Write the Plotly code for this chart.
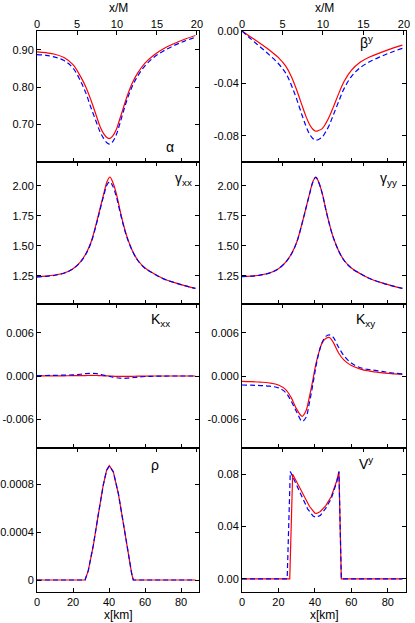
import plotly.graph_objects as go

# km per unit of M (top axis)
KM_PER_M = 4.444

# ---- data (x in km) ----
X_KM = [0, 5, 10, 15, 20, 24, 27, 30, 33, 35, 37, 39, 40.5, 42, 44, 46, 48, 50,
        53, 56, 60, 65, 70, 76, 82, 88]

ALPHA_RED = [0.894, 0.892, 0.888, 0.879, 0.860, 0.830, 0.802, 0.765, 0.723, 0.695,
             0.676, 0.665, 0.663, 0.669, 0.686, 0.715, 0.745, 0.775, 0.812, 0.838,
             0.864, 0.886, 0.902, 0.916, 0.928, 0.938]
ALPHA_BLUE = [0.887, 0.885, 0.880, 0.871, 0.851, 0.818, 0.786, 0.745, 0.706, 0.681,
              0.663, 0.651, 0.648, 0.654, 0.672, 0.702, 0.735, 0.766, 0.803, 0.830,
              0.857, 0.880, 0.896, 0.911, 0.923, 0.933]

BETA_RED = [0.0, -0.0048, -0.0095, -0.0145, -0.0203, -0.0268, -0.0345, -0.0450,
            -0.0570, -0.0648, -0.0712, -0.0752, -0.0765, -0.0760, -0.0745, -0.0705,
            -0.0650, -0.0585, -0.0480, -0.0385, -0.0300, -0.0237, -0.0198, -0.0165,
            -0.0135, -0.0108]
BETA_BLUE = [0.0, -0.0062, -0.0122, -0.0182, -0.0250, -0.0322, -0.0410, -0.0520,
             -0.0645, -0.0722, -0.0785, -0.0822, -0.0833, -0.0828, -0.0810, -0.0768,
             -0.0715, -0.0645, -0.0540, -0.0440, -0.0348, -0.0278, -0.0235, -0.0196,
             -0.0162, -0.0133]

GXX_RED = [1.245, 1.248, 1.257, 1.274, 1.310, 1.365, 1.430, 1.530, 1.690, 1.810,
           1.930, 2.040, 2.075, 2.035, 1.940, 1.805, 1.680, 1.575, 1.460, 1.380,
           1.315, 1.268, 1.228, 1.195, 1.168, 1.145]
GXX_BLUE = [1.240, 1.246, 1.255, 1.272, 1.308, 1.362, 1.427, 1.525, 1.682, 1.800,
            1.915, 2.012, 2.035, 2.002, 1.915, 1.790, 1.672, 1.570, 1.457, 1.378,
            1.314, 1.267, 1.227, 1.195, 1.168, 1.145]

GYY_RED = [1.245, 1.248, 1.257, 1.274, 1.310, 1.365, 1.430, 1.530, 1.690, 1.810,
           1.930, 2.040, 2.075, 2.035, 1.940, 1.805, 1.680, 1.575, 1.460, 1.380,
           1.315, 1.268, 1.228, 1.195, 1.168, 1.145]
GYY_BLUE = [1.243, 1.247, 1.256, 1.273, 1.309, 1.364, 1.429, 1.529, 1.688, 1.808,
            1.928, 2.037, 2.072, 2.033, 1.938, 1.803, 1.679, 1.574, 1.459, 1.379,
            1.315, 1.268, 1.228, 1.195, 1.168, 1.145]

KXX_RED = [0.00002, 0.00002, 0.00003, 0.00003, 0.00004, 0.00005, 0.00006, 0.00008,
           0.00007, 0.00005, 0.00003, 0.00001, -0.00001, -0.00003, -0.00005, -0.00006,
           -0.00006, -0.00005, -0.00004, -0.00002, -0.00001, 0.0, 0.0, 0.0, 0.0, 0.0]
KXX_BLUE = [0.00006, 0.00007, 0.00010, 0.00012, 0.00016, 0.00024, 0.00033, 0.00038,
            0.00033, 0.00024, 0.00012, 0.00002, -0.00006, -0.00015, -0.00024, -0.00030,
            -0.00032, -0.00030, -0.00022, -0.00014, -0.00007, -0.00003, -0.00001,
            0.0, 0.0, 0.0]

KXY_RED = [-0.00074, -0.00078, -0.00085, -0.00097, -0.00125, -0.0019, -0.0030,
           -0.0046, -0.0056, -0.0049, -0.0029, -0.0004, 0.0016, 0.0031, 0.0046,
           0.0052, 0.00535, 0.0047, 0.0032, 0.0022, 0.00145, 0.00095, 0.00068,
           0.00048, 0.00034, 0.00023]
KXY_BLUE = [-0.00125, -0.00128, -0.00133, -0.00142, -0.00165, -0.0023, -0.0035,
            -0.0050, -0.0063, -0.0058, -0.0037, -0.0010, 0.0012, 0.0030, 0.0047,
            0.0055, 0.0057, 0.0054, 0.0040, 0.0028, 0.0018, 0.00115, 0.00088,
            0.00068, 0.00045, 0.0003]

X_RHO = [0, 10, 20, 26.7, 28.5, 31.3, 34, 36.8, 38.7, 40.2, 42.4, 45.2, 48, 50.7,
         52.6, 53.5, 60, 70, 80, 88]
RHO_RED = [0, 0, 0, 0, 0.000078, 0.000288, 0.00054, 0.00079, 0.000917, 0.000953,
           0.000903, 0.00072, 0.00047, 0.000204, 0.000053, 0, 0, 0, 0, 0]
RHO_BLUE = [0, 0, 0, 0, 0.000080, 0.000290, 0.00054, 0.00079, 0.000915, 0.000950,
            0.000900, 0.00072, 0.00047, 0.000205, 0.000054, 0, 0, 0, 0, 0]

X_V_RED = [0, 10, 20, 26.2, 27.8, 31, 34, 37, 40, 41, 43, 46, 49, 52, 53.2, 54.5,
           60, 70, 80, 88]
V_RED = [0, 0, 0, 0, 0.080, 0.0715, 0.0635, 0.0555, 0.0502, 0.0500, 0.0515, 0.0560,
         0.0630, 0.0750, 0.082, 0, 0, 0, 0, 0]
X_V_BLUE = [0, 10, 20, 24.8, 26.5, 30, 33, 36, 39, 40.5, 43, 46, 49, 52, 53.2, 54.5,
            60, 70, 80, 88]
V_BLUE = [0, 0, 0, 0, 0.082, 0.0715, 0.0620, 0.0535, 0.0480, 0.0470, 0.0485, 0.0540,
          0.0615, 0.0740, 0.082, 0, 0, 0, 0, 0]

KM_TICKS = [0, 20, 40, 60, 80]
M_TICKS = [0, 5, 10, 15, 20]

ALPHA_TICKS = [0.70, 0.80, 0.90]
ALPHA_LABELS = ["0.70", "0.80", "0.90"]
BETA_TICKS = [-0.08, -0.04, 0.0]
BETA_LABELS = ["-0.08", "-0.04", "0.00"]
GAMMA_TICKS = [1.25, 1.50, 1.75, 2.00]
GAMMA_LABELS = ["1.25", "1.50", "1.75", "2.00"]
K_TICKS = [-0.006, 0.0, 0.006]
K_LABELS = ["-0.006", "0.000", "0.006"]
RHO_TICKS = [0, 0.0004, 0.0008]
RHO_LABELS = ["0", "0.0004", "0.0008"]
V_TICKS = [0.0, 0.04, 0.08]
V_LABELS = ["0.00", "0.04", "0.08"]

# ---- style / layout ----
W, H = 415, 623
FONT = "Liberation Sans, Arial, sans-serif"
RED = "#ff0000"
BLUE = "#0000ff"

COL_PX = [(37, 199), (242, 406)]
ROW_PX = [(31, 162), (162, 304), (304, 448), (448, 592)]

# (label, label px position, x red, red, x blue, blue, y range, ticks, labels, smooth)
PANELS = [
    ("α", (170, 147), X_KM, ALPHA_RED, X_KM, ALPHA_BLUE, [0.6, 0.95],
     ALPHA_TICKS, ALPHA_LABELS, True),
    ("β<sup>y</sup>", (366, 42), X_KM, BETA_RED, X_KM, BETA_BLUE, [-0.1, 0.0],
     BETA_TICKS, BETA_LABELS, True),
    ("γ<sub>xx</sub>", (183, 179), X_KM, GXX_RED, X_KM, GXX_BLUE, [1.015, 2.2],
     GAMMA_TICKS, GAMMA_LABELS, True),
    ("γ<sub>yy</sub>", (388, 179), X_KM, GYY_RED, X_KM, GYY_BLUE, [1.015, 2.2],
     GAMMA_TICKS, GAMMA_LABELS, True),
    ("K<sub>xx</sub>", (160, 320), X_KM, KXX_RED, X_KM, KXX_BLUE, [-0.01, 0.01],
     K_TICKS, K_LABELS, True),
    ("K<sub>xy</sub>", (365, 320), X_KM, KXY_RED, X_KM, KXY_BLUE, [-0.01, 0.01],
     K_TICKS, K_LABELS, True),
    ("ρ", (155, 465), X_RHO, RHO_RED, X_RHO, RHO_BLUE, [-0.0001, 0.0011],
     RHO_TICKS, RHO_LABELS, False),
    ("V<sup>y</sup>", (366, 463), X_V_RED, V_RED, X_V_BLUE, V_BLUE, [-0.01, 0.1],
     V_TICKS, V_LABELS, False),
]

fig = go.Figure()
layout = {}
annotations = []


def px_note(text, xpx, ypx, size):
    return dict(
        text=text, x=xpx / W, y=1 - ypx / H, xref="paper", yref="paper",
        showarrow=False, xanchor="center", yanchor="middle",
        font=dict(family=FONT, size=size, color="black"),
    )


for i, (label, lpos, xr, yr, xb, yb, yrange, yt, ylab, smooth) in enumerate(PANELS):
    row, col = divmod(i, 2)
    n = i + 1
    m = i + 9
    shape = "spline" if smooth else "linear"

    fig.add_trace(go.Scatter(
        x=xr, y=yr, xaxis=f"x{n}", yaxis=f"y{n}", mode="lines",
        line=dict(color=RED, width=1.2, shape=shape), showlegend=False,
    ))
    fig.add_trace(go.Scatter(
        x=xb, y=yb, xaxis=f"x{n}", yaxis=f"y{n}", mode="lines",
        line=dict(color=BLUE, width=1.2, dash="5px,3px", shape=shape), showlegend=False,
    ))
    # empty trace so the top x/M axis gets drawn
    fig.add_trace(go.Scatter(
        x=[None], y=[None], xaxis=f"x{m}", yaxis=f"y{n}", mode="lines",
        showlegend=False, hoverinfo="skip",
    ))

    x0, x1 = COL_PX[col]
    top, bot = ROW_PX[row]
    common = dict(
        showgrid=False, zeroline=False, ticks="inside", ticklen=4,
        tickcolor="black", tickwidth=1, automargin=False,
        tickfont=dict(family=FONT, size=11, color="black"),
    )
    layout[f"xaxis{n}"] = dict(
        common, domain=[x0 / W, x1 / W], anchor=f"y{n}", range=[0, 90],
        tickvals=KM_TICKS, showline=True, mirror=True, linecolor="black", linewidth=1,
        showticklabels=(row == 3),
    )
    layout[f"yaxis{n}"] = dict(
        common, domain=[1 - bot / H, 1 - top / H], anchor=f"x{n}", range=yrange,
        tickvals=yt, ticktext=ylab, showline=True, mirror="ticks",
        linecolor="black", linewidth=1,
    )
    layout[f"xaxis{m}"] = dict(
        common, overlaying=f"x{n}", anchor=f"y{n}", side="top",
        range=[0, 90 / KM_PER_M], tickvals=M_TICKS, showline=False,
        showticklabels=(row == 0),
    )
    annotations.append(px_note(label, lpos[0], lpos[1], 14))

    if row == 0:
        annotations.append(px_note("x/M", (x0 + x1) / 2, 8, 12))
    if row == 3:
        annotations.append(px_note("x[km]", (x0 + x1) / 2, 615, 12))

fig.update_layout(
    width=W, height=H, autosize=False,
    margin=dict(l=0, r=0, t=0, b=0, pad=0),
    paper_bgcolor="white", plot_bgcolor="white",
    annotations=annotations,
    **layout,
)

# page body has a default 8px margin; drop it so the figure fills the window
fig.write_html(
    "out.html",
    config={"displayModeBar": False},
    post_script="document.body.style.margin='0';document.body.style.overflow='hidden';",
)
